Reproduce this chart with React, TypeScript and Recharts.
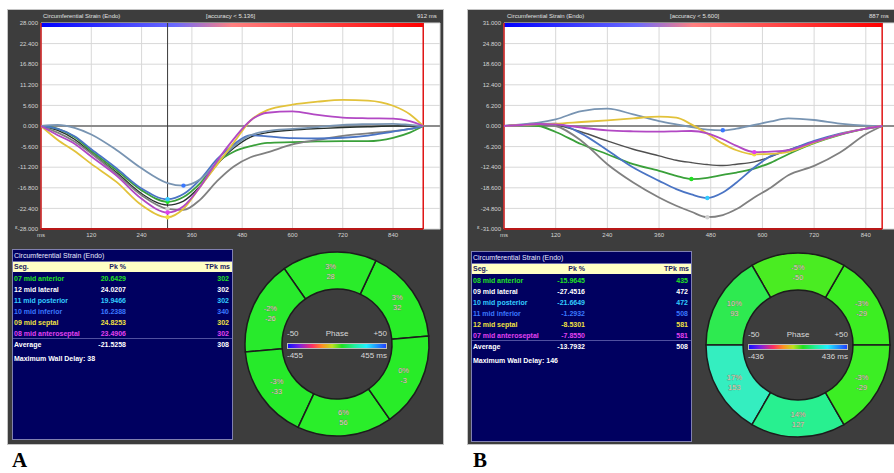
import {
  LineChart,
  Line,
  XAxis,
  YAxis,
  CartesianGrid,
  ReferenceLine,
  ReferenceArea,
  PieChart,
  Pie,
  Cell,
} from "recharts";

// ---------- panel A : circumferential strain curves (ms / %)
const timeA = [0, 40, 80, 120, 180, 240, 302, 340, 380, 420, 460, 500, 540, 600, 660, 720, 780, 840, 880, 912];
const antA = [0, -0.8, -3.0, -6.8, -12.0, -17.5, -20.6, -19.3, -15.5, -10.0, -7.0, -5.5, -4.6, -4.4, -4.2, -4.1, -4.1, -3.2, -1.8, 0];
const latA = [0, -1.8, -4.2, -7.5, -13.0, -18.8, -22.5, -22.8, -20.0, -15.0, -11.0, -8.5, -7.2, -5.0, -3.8, -2.7, -2.0, -1.4, -0.8, 0];
const postA = [0, -0.8, -2.8, -6.3, -11.5, -17.0, -19.9, -18.5, -14.5, -9.0, -5.0, -2.5, -2.8, -3.3, -3.4, -3.2, -2.6, -1.5, -0.8, 0];
const infA = [0, 0.3, -0.5, -2.3, -6.5, -11.5, -15.5, -16.2, -14.5, -10.0, -5.5, -2.5, -1.4, -0.8, -0.3, 0.3, 0.5, 0.6, 0.3, 0];
const septA = [0, -3.8, -6.8, -10.3, -15.2, -21.5, -24.8, -22.5, -16.5, -10.5, -4.5, 1.5, 4.3, 5.8, 6.6, 7.1, 6.9, 5.5, 3.2, 0];
const antsA = [0, -2.5, -4.8, -8.3, -13.5, -19.8, -23.5, -21.8, -16.5, -9.5, -3.5, 1.5, 3.6, 4.0, 3.0, 2.3, 2.1, 2.0, 1.3, 0];
const avgA = [0, -1.2, -3.6, -7.3, -12.6, -18.4, -21.5, -20.4, -16.3, -10.5, -6.0, -3.0, -1.8, -1.1, -0.7, -0.4, -0.2, 0, 0, 0];

const segNamesA = ["07 mid anterior", "12 mid lateral", "11 mid posterior", "10 mid inferior", "09 mid septal", "08 mid anteroseptal"];
const pkA = [20.6429, 24.0207, 19.9466, 16.2388, 24.8253, 23.4906];
const tpkA = [302, 302, 302, 340, 302, 302];
const yTicksA = [28, 22.4, 16.8, 11.2, 5.6, 0, -5.6, -11.2, -16.8, -22.4, -28];

const bullPctA = ["3%", "3%", "-2%", "-3%", "6%", "0%"];
const bullMsA = ["32", "28", "-26", "-33", "56", "-3"];
const bullFillA = ["#28ec28", "#2aec2a", "#28ea2c", "#26ea2a", "#2aee2a", "#28ec28"];

// ---------- panel B
const timeB = [0, 40, 80, 120, 180, 240, 300, 360, 400, 435, 472, 508, 540, 581, 620, 660, 720, 780, 840, 878];
const antB = [0, 0.2, 0, -1.8, -5.5, -8.5, -11.5, -13.5, -15.0, -15.96, -15.6, -14.7, -14.0, -12.8, -11.0, -8.5, -5.2, -2.7, -0.8, 0];
const latB = [0, 0.3, 0.6, 0, -4.5, -11.5, -17.0, -21.5, -24.0, -25.8, -27.45, -26.8, -25.0, -21.5, -18.5, -14.8, -12.0, -8.0, -2.5, 0];
const postB = [0, 0.3, 0.6, 0.7, -2.3, -7.3, -12.5, -16.5, -19.0, -20.6, -21.66, -20.0, -17.0, -12.5, -9.0, -7.3, -4.5, -2.3, -0.8, 0];
const infB = [0, 0.5, 1.0, 2.0, 4.5, 5.2, 3.5, 1.5, 0.5, -0.3, -1.1, -1.29, -0.8, 0.3, 1.4, 2.3, 1.8, 0.7, 0.1, 0];
const septB = [0, 0.3, 0.5, 0.7, 1.2, 1.7, 2.3, 2.8, 2.5, 0.5, -2.3, -5.3, -7.3, -8.53, -8.4, -7.8, -5.0, -2.5, -0.8, 0];
const antsB = [0, 0.3, 0.6, 0.5, -0.5, -1.3, -1.6, -1.7, -1.6, -1.5, -2.2, -4.0, -6.0, -7.86, -7.7, -7.3, -4.8, -2.5, -0.8, 0];
const avgB = [0, 0.2, 0.4, 0.2, -1.8, -4.5, -7.0, -9.0, -10.3, -11.0, -11.6, -11.9, -11.5, -10.8, -9.2, -7.2, -4.8, -2.5, -0.8, 0];

const segNamesB = ["08 mid anterior", "09 mid lateral", "10 mid posterior", "11 mid inferior", "12 mid septal", "07 mid anteroseptal"];
const pkB = [-15.9645, -27.4516, -21.6649, -1.2932, -8.5301, -7.855];
const tpkB = [435, 472, 472, 508, 581, 581];
const yTicksB = [31, 24.8, 18.6, 12.4, 6.2, 0, -6.2, -12.4, -18.6, -24.8, -31];

const bullPctB = ["-3%", "-5%", "10%", "17%", "14%", "-3%"];
const bullMsB = ["-29", "-50", "93", "153", "127", "-29"];
const bullFillB = ["#3cee22", "#4aec22", "#2eea50", "#34eec0", "#28f090", "#3cee24"];

const msTicks = [0, 120, 240, 360, 480, 600, 720, 840];

// colours shared by both panels (table order)
const textColors = ["#22e022", "#ffffff", "#33ccff", "#3a78ff", "#f0e040", "#e040f0"];
const lineColors = ["#3aa03a", "#808080", "#4a74c4", "#7894b2", "#e2c23a", "#b248c4"];
const keys = ["ant", "lat", "post", "inf", "sept", "ants"];

const RAD = Math.PI / 180;
const panelBg = "#3d3d3d";

const buildRows = (time: number[], series: number[][]) =>
  time.map((t, i) => {
    const row: any = { t };
    keys.forEach((k, j) => (row[k] = series[j][i]));
    row.avg = series[6][i];
    return row;
  });

const rowsA = buildRows(timeA, [antA, latA, postA, infA, septA, antsA, avgA]);
const rowsB = buildRows(timeB, [antB, latB, postB, infB, septB, antsB, avgB]);

const tickStyle = { fill: "#d4d4d4", fontSize: 6, fontFamily: "Liberation Sans" };

function StrainChart({ rows, tpk, yTicks, yMax, xMax, endMs, cursor, gradId, width, marginLeft, avgColor }) {
  return (
    <LineChart
      width={width}
      height={234}
      data={rows}
      margin={{ top: 13, right: 3, bottom: 3, left: marginLeft }}
    >
      <defs>
        <linearGradient id={gradId} x1="0" y1="0" x2="1" y2="0">
          <stop offset="0%" stopColor="#0000ff" />
          <stop offset="35%" stopColor="#6a6aff" />
          <stop offset="50%" stopColor="#ff8080" />
          <stop offset="100%" stopColor="#ff0000" />
        </linearGradient>
      </defs>
      <CartesianGrid stroke="#d8d8d8" fill="#ffffff" fillOpacity={1} />
      <XAxis
        dataKey="t"
        type="number"
        domain={[0, xMax]}
        ticks={msTicks}
        interval={0}
        allowDataOverflow
        tickFormatter={(v) => (v === 0 ? "ms" : String(v))}
        tick={tickStyle}
        tickSize={0}
        tickMargin={4}
        axisLine={false}
        height={12}
      />
      <YAxis
        type="number"
        domain={[-yMax, yMax]}
        ticks={yTicks}
        interval={0}
        allowDataOverflow
        tickFormatter={(v) => v.toFixed(3)}
        tick={tickStyle}
        tickSize={0}
        tickMargin={3}
        axisLine={false}
        width={30}
      />
      <ReferenceArea
        x1={0}
        x2={endMs}
        y1={yMax * 0.96}
        y2={yMax}
        fill={`url(#${gradId})`}
        fillOpacity={1}
        stroke="none"
      />
      <ReferenceLine y={0} stroke="#8c8c8c" strokeWidth={2} />
      {cursor != null && <ReferenceLine x={cursor} stroke="#3a3a3a" strokeWidth={1} />}
      <ReferenceLine x={0} stroke="#cc1818" strokeWidth={1.5} />
      <ReferenceLine x={endMs} stroke="#e01414" strokeWidth={1.5} />
      <ReferenceLine
        segment={[
          { x: 0, y: -yMax },
          { x: endMs, y: -yMax },
        ]}
        stroke="#b81818"
        strokeWidth={2}
      />
      <Line
        dataKey="avg"
        type="monotone"
        stroke={avgColor}
        strokeWidth={1.4}
        dot={false}
        activeDot={false}
        isAnimationActive={false}
      />
      {keys.map((k, i) => (
        <Line
          key={k}
          dataKey={k}
          type="monotone"
          stroke={lineColors[i]}
          strokeWidth={1.8}
          activeDot={false}
          isAnimationActive={false}
          dot={(p: any) =>
            p.payload.t === tpk[i] ? (
              <circle key={`${k}-${p.index}`} cx={p.cx} cy={p.cy} r={2.2} fill={textColors[i] === "#ffffff" ? "#d0d0d0" : textColors[i]} />
            ) : (
              <g key={`${k}-${p.index}`} />
            )
          }
        />
      ))}
    </LineChart>
  );
}

function SegTable({ left, top, names, pk, tpk, avgPk, avgTpk, delay }) {
  const rowText = { position: "absolute", fontSize: 7, fontWeight: "bold", lineHeight: "11px", whiteSpace: "nowrap" } as any;
  return (
    <div
      style={{
        position: "absolute",
        left,
        top,
        width: 221,
        height: 191,
        background: "#000060",
        border: "1px solid #8080b0",
        boxSizing: "border-box",
        fontFamily: "Liberation Sans",
      }}
    >
      <div style={{ position: "absolute", left: 0, top: 0, right: 0, height: 11, borderBottom: "1px solid #7070a8", color: "#e8e8ff", fontSize: 7, lineHeight: "11px", paddingLeft: 1 }}>
        Circumferential Strain (Endo)
      </div>
      <div style={{ position: "absolute", left: 0, top: 12, right: 0, height: 10, background: "#ffffc4", color: "#202060", fontSize: 7, fontWeight: "bold", lineHeight: "10px" }}>
        <span style={{ position: "absolute", left: 1 }}>Seg.</span>
        <span style={{ position: "absolute", right: 106 }}>Pk %</span>
        <span style={{ position: "absolute", right: 2 }}>TPk ms</span>
      </div>
      {names.map((n, i) => (
        <div key={n} style={{ position: "absolute", left: 0, right: 0, top: 23 + i * 11, height: 11, color: textColors[i] }}>
          <span style={{ ...rowText, left: 1 }}>{n}</span>
          <span style={{ ...rowText, right: 106 }}>{pk[i].toFixed(4)}</span>
          <span style={{ ...rowText, right: 3 }}>{tpk[i]}</span>
        </div>
      ))}
      <div style={{ position: "absolute", left: 0, right: 0, top: 88, borderTop: "1px solid #5050a0", height: 11, color: "#ffffff" }}>
        <span style={{ ...rowText, left: 1 }}>Average</span>
        <span style={{ ...rowText, right: 106 }}>{avgPk.toFixed(4)}</span>
        <span style={{ ...rowText, right: 3 }}>{avgTpk}</span>
      </div>
      <div style={{ ...rowText, left: 1, top: 103, color: "#ffffff" }}>Maximum Wall Delay: {delay}</div>
    </div>
  );
}

function Bullseye({ left, top, start, pct, ms, fills, range }) {
  const data = pct.map((p, i) => ({ name: p, v: 1, ms: ms[i] }));
  return (
    <div style={{ position: "absolute", left, top, width: 200, height: 200 }}>
      <PieChart width={200} height={200} margin={{ top: 0, right: 0, bottom: 0, left: 0 }}>
        <Pie
          data={data}
          dataKey="v"
          cx="50%"
          cy="50%"
          innerRadius={55}
          outerRadius={92}
          startAngle={start}
          endAngle={start + 360}
          stroke="#1c1c1c"
          strokeWidth={1.5}
          isAnimationActive={false}
          labelLine={false}
          label={(p: any) => {
            const r = (p.innerRadius + p.outerRadius) / 2;
            const x = p.cx + r * Math.cos(-p.midAngle * RAD);
            const y = p.cy + r * Math.sin(-p.midAngle * RAD);
            return (
              <text
                key={`l${p.index}`}
                x={x}
                y={y}
                textAnchor="middle"
                fontSize={7.5}
                fontFamily="Liberation Sans"
                fill="#dcd8bc"
                stroke="#6a6a58"
                strokeWidth={0.35}
                paintOrder="stroke"
              >
                <tspan x={x} y={y - 2}>{pct[p.index]}</tspan>
                <tspan x={x} y={y + 8}>{ms[p.index]}</tspan>
              </text>
            );
          }}
        >
          {data.map((d, i) => (
            <Cell key={i} fill={fills[i]} />
          ))}
        </Pie>
      </PieChart>
      <div style={{ position: "absolute", left: 50, top: 88, width: 100, fontFamily: "Liberation Sans", fontSize: 8, color: "#d8d8d8" }}>
        <span style={{ position: "absolute", left: 0, top: -3 }}>-50</span>
        <span style={{ position: "absolute", left: 0, right: 0, top: -3, textAlign: "center" }}>Phase</span>
        <span style={{ position: "absolute", right: 0, top: -3 }}>+50</span>
        <div
          style={{
            position: "absolute",
            left: 0,
            top: 11,
            width: 100,
            height: 6,
            border: "1px solid #bbbbbb",
            boxSizing: "border-box",
            background:
              "linear-gradient(to right, #1010ff 0%, #8020e0 12%, #ff3060 25%, #ff9020 35%, #c0e020 45%, #20e020 55%, #20f0a0 68%, #20f0ff 80%, #2040ff 100%)",
          }}
        />
        <span style={{ position: "absolute", left: 0, top: 19 }}>-{range}</span>
        <span style={{ position: "absolute", right: 0, top: 19 }}>{range} ms</span>
      </div>
    </div>
  );
}

function Header({ left, accuracy, rr, rrLeft }) {
  const s = { position: "absolute", top: 3, fontSize: 6, color: "#e0e0e0", fontFamily: "Liberation Sans", whiteSpace: "nowrap" } as any;
  return (
    <>
      <span style={{ ...s, left }}>Circumferential Strain (Endo)</span>
      <span style={{ ...s, left: left + 163 }}>[accuracy &lt; {accuracy}]</span>
      <span style={{ ...s, left: rrLeft }}>{rr} ms</span>
    </>
  );
}

export default function App() {
  return (
    <div
      style={{
        position: "absolute",
        left: 0,
        top: 0,
        width: 894,
        height: 473,
        background: "#ffffff",
        overflow: "hidden",
      }}
    >
      {/* panel A */}
      <div style={{ position: "absolute", left: 8, top: 10, width: 435, height: 434, background: panelBg, outline: "1px solid #c4c4c4" }}>
        <StrainChart
          rows={rowsA}
          tpk={tpkA}
          yTicks={yTicksA}
          yMax={28}
          xMax={952}
          endMs={912}
          cursor={302}
          gradId="barA"
          width={435}
          marginLeft={3}
          avgColor="#26302c"
        />
        <Header left={35} accuracy="5.136" rr="912" rrLeft={409} />
        <span style={{ position: "absolute", left: 7, top: 214, fontSize: 6, color: "#ccc", fontFamily: "Liberation Sans" }}>ε</span>
      </div>
      <SegTable left={12} top={249} names={segNamesA} pk={pkA} tpk={tpkA} avgPk={-21.5258} avgTpk={308} delay={38} />
      <Bullseye left={237} top={244} start={5} pct={bullPctA} ms={bullMsA} fills={bullFillA} range={455} />

      {/* panel B */}
      <div style={{ position: "absolute", left: 468, top: 10, width: 440, height: 434, background: panelBg, outline: "1px solid #c4c4c4" }}>
        <StrainChart
          rows={rowsB}
          tpk={tpkB}
          yTicks={yTicksB}
          yMax={31}
          xMax={931}
          endMs={878}
          cursor={null}
          gradId="barB"
          width={440}
          marginLeft={6}
          avgColor="#505050"
        />
        <Header left={39} accuracy="5.600" rr="887" rrLeft={401} />
        <span style={{ position: "absolute", left: 9, top: 214, fontSize: 6, color: "#ccc", fontFamily: "Liberation Sans" }}>ε</span>
      </div>
      <SegTable left={471} top={251} names={segNamesB} pk={pkB} tpk={tpkB} avgPk={-13.7932} avgTpk={508} delay={146} />
      <Bullseye left={698} top={245} start={0} pct={bullPctB} ms={bullMsB} fills={bullFillB} range={436} />

      <div style={{ position: "absolute", left: 12, top: 449, fontFamily: "Liberation Serif", fontWeight: "bold", fontSize: 21, lineHeight: "23px" }}>A</div>
      <div style={{ position: "absolute", left: 473, top: 449, fontFamily: "Liberation Serif", fontWeight: "bold", fontSize: 21, lineHeight: "23px" }}>B</div>
    </div>
  );
}
